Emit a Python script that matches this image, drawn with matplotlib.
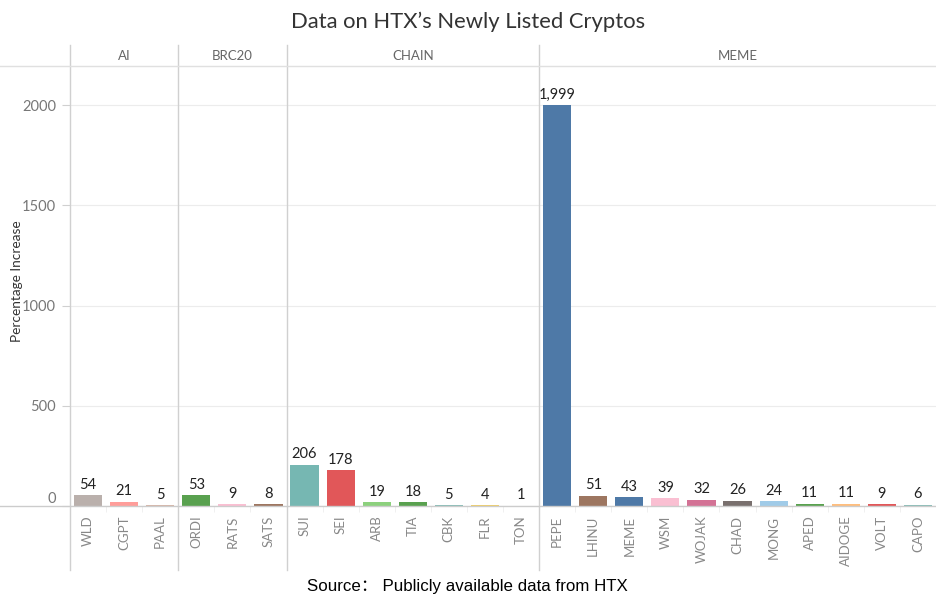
import matplotlib
matplotlib.use('Agg')
import matplotlib.pyplot as plt
from matplotlib.lines import Line2D

W, H = 936, 604

groups = ['AI', 'BRC20', 'CHAIN', 'MEME']
group_sizes = [3, 3, 7, 11]
coins = ['WLD', 'CGPT', 'PAAL',
         'ORDI', 'RATS', 'SATS',
         'SUI', 'SEI', 'ARB', 'TIA', 'CBK', 'FLR', 'TON',
         'PEPE', 'LHINU', 'MEME', 'WSM', 'WOJAK', 'CHAD', 'MONG', 'APED', 'AIDOGE', 'VOLT', 'CAPO']
increase = [54, 21, 5,
            53, 9, 8,
            206, 178, 19, 18, 5, 4, 1,
            1999, 51, 43, 39, 32, 26, 24, 11, 11, 9, 6]
colors = ['#bab0ac', '#ff9d9a', '#d7b5a6',
          '#59a14f', '#fabfd2', '#9d7660',
          '#76b7b2', '#e15759', '#8cd17d', '#59a14f', '#86bcb6', '#f1ce63', '#b6992d',
          '#4e79a7', '#9d7660', '#4e79a7', '#fabfd2', '#d37295', '#79706e', '#a0cbe8',
          '#59a14f', '#ffbe7d', '#e15759', '#86bcb6']

plt.rcParams['font.family'] = ['Lato', 'DejaVu Sans']

fig = plt.figure(figsize=(W / 100, H / 100), dpi=100)


def fx(px):
    return px / W


def fy(py):
    return 1 - py / H


left, right = 70, 936
top, base = 66, 506
ax = fig.add_axes([fx(left), fy(base), fx(right - left), fy(top) - fy(base)])

n = len(coins)
x = list(range(n))
ax.bar(x, increase, width=0.78, color=colors, zorder=3)
for xi, v in zip(x, increase):
    ax.annotate(f'{v:,}', (xi, v), xytext=(0, 2.5), textcoords='offset points',
                ha='center', va='bottom', fontsize=10.5, color='#222222', zorder=4)

ax.set_xlim(-0.5, n - 0.5)
ax.set_ylim(0, 2195)
ax.set_yticks([0, 500, 1000, 1500, 2000])
ax.set_yticklabels(['0', '500', '1000', '1500', '2000'])
ax.tick_params(axis='y', colors='#d0d0d0', labelcolor='#777777', labelsize=10.5, length=6, pad=4)
ax.get_yticklabels()[0].set_va('bottom')
ax.tick_params(axis='x', length=0, labelsize=9.5, labelcolor='#888888', pad=7)
ax.set_xticks(x)
ax.set_xticklabels(coins, rotation=90)
ax.set_xticks([i + 0.5 for i in range(n - 1)], minor=True)
ax.tick_params(axis='x', which='minor', length=4, color='#eeeeee')
ax.grid(axis='y', color='#ececec', linewidth=0.8, zorder=0)
for s in ax.spines.values():
    s.set_visible(False)
ax.set_ylabel('Percentage Increase', fontsize=9.8, color='#333333')
ax.yaxis.set_label_coords(-0.0545, 0.51)

# group separators and headers
bounds = [-0.5]
for gs in group_sizes:
    bounds.append(bounds[-1] + gs)
unit = (right - left) / n
for b in bounds[:-1]:
    px = left + (b + 0.5) * unit
    fig.add_artist(Line2D([fx(px), fx(px)], [fy(45), fy(570)], color='#d0d0d0', linewidth=1))
for g, b0, b1 in zip(groups, bounds[:-1], bounds[1:]):
    cx = left + ((b0 + b1) / 2 + 0.5) * unit
    fig.text(fx(cx), fy(56), g, ha='center', va='center', fontsize=9.5, color='#666666')

fig.add_artist(Line2D([0, 1], [fy(66), fy(66)], color='#e0e0e0', linewidth=1))
fig.add_artist(Line2D([0, 1], [fy(506), fy(506)], color='#cccccc', linewidth=1))

fig.text(0.5, fy(22), 'Data on HTX\u2019s Newly Listed Cryptos', ha='center', va='center',
         fontsize=15.8, color='#333333')
fig.text(fx(467), fy(586), 'Source\uff1a Publicly available data from HTX', ha='center', va='center',
         fontsize=12.2, color='#000000', family=['Liberation Sans', 'Noto Sans CJK SC'])

fig.savefig('out.png', dpi=100)
